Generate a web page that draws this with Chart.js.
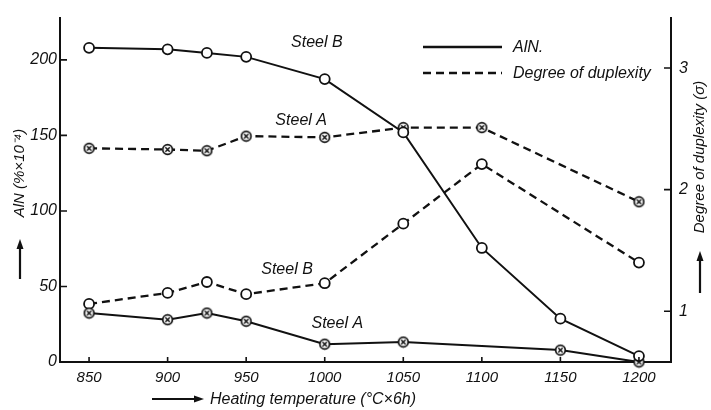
<!DOCTYPE html>
<html>
<head>
<meta charset="utf-8">
<script src="https://cdn.jsdelivr.net/npm/chart.js@4.4.1/dist/chart.umd.min.js"></script>
<style>
  html, body { margin: 0; padding: 0; background: #fff; }
  #wrap { width: 711px; height: 410px; position: relative; }
</style>
</head>
<body>
<div id="wrap"><canvas id="myChart"></canvas></div>
<script>
// values
const alnTempsB = [850, 900, 925, 950, 1000, 1050, 1100, 1150, 1200];
const alnSteelB = [208, 207, 204.6, 202, 187.3, 152, 75.5, 28.7, 3.9];
const alnTempsA = [850, 900, 925, 950, 1000, 1050, 1150, 1200];
const alnSteelA = [32.4, 28, 32.4, 27, 11.8, 13.2, 7.9, 0];
const dupTemps = [850, 900, 925, 950, 1000, 1050, 1100, 1200];
const dupSteelA = [2.34, 2.33, 2.32, 2.44, 2.43, 2.51, 2.51, 1.90];
const dupSteelB = [1.06, 1.15, 1.24, 1.14, 1.23, 1.72, 2.21, 1.40];
const xTicks = [850, 900, 950, 1000, 1050, 1100, 1150, 1200];
const alnTicks = [0, 50, 100, 150, 200];
const dupTicks = [1, 2, 3];

const ink = '#111';
const fam = "'Liberation Sans', Arial, sans-serif";

function pts(xs, ys) {
	return xs.map((x, i) => ({ x: x, y: ys[i] }));
}

// circle with a cross inside, for steel A
function crossedCircle() {
	const c = document.createElement('canvas');
	c.width = 13; c.height = 13;
	const g = c.getContext('2d');
	g.fillStyle = '#fff';
	g.strokeStyle = ink;
	g.lineWidth = 1.7;
	g.beginPath(); g.arc(6.5, 6.5, 4.8, 0, Math.PI * 2); g.fill(); g.stroke();
	g.lineWidth = 1.5;
	g.beginPath();
	g.moveTo(4.3, 4.3); g.lineTo(8.7, 8.7);
	g.moveTo(8.7, 4.3); g.lineTo(4.3, 8.7);
	g.stroke();
	return c;
}
const xo = crossedCircle();

function arrow(ctx, x1, y1, x2, y2) {
	const a = Math.atan2(y2 - y1, x2 - x1);
	ctx.lineWidth = 2.2;
	ctx.beginPath(); ctx.moveTo(x1, y1);
	ctx.lineTo(x2 - 6 * Math.cos(a), y2 - 6 * Math.sin(a)); ctx.stroke();
	ctx.beginPath();
	ctx.moveTo(x2, y2);
	ctx.lineTo(x2 - 10 * Math.cos(a) + 3.5 * Math.sin(a), y2 - 10 * Math.sin(a) - 3.5 * Math.cos(a));
	ctx.lineTo(x2 - 10 * Math.cos(a) - 3.5 * Math.sin(a), y2 - 10 * Math.sin(a) + 3.5 * Math.cos(a));
	ctx.closePath(); ctx.fill();
}

// labels on the curves (temperature, AlN units)
const notes = [
	{ t: 'Steel B', x: 995, y: 211.5 },
	{ t: 'Steel A', x: 985, y: 160 },
	{ t: 'Steel B', x: 976, y: 61.5 },
	{ t: 'Steel A', x: 1008, y: 25.5 }
];

const decor = {
	id: 'decor',
	afterDraw(chart) {
		const ctx = chart.ctx;
		const a = chart.chartArea;
		const sx = chart.scales.x, sy = chart.scales.y, sy2 = chart.scales.y2;
		ctx.save();
		ctx.strokeStyle = ink;
		ctx.fillStyle = ink;
		ctx.lineWidth = 1.6;
		// inward tick marks
		ctx.beginPath();
		xTicks.forEach(v => { const p = sx.getPixelForValue(v); ctx.moveTo(p, a.bottom); ctx.lineTo(p, a.bottom - 5); });
		alnTicks.forEach(v => { const p = sy.getPixelForValue(v); ctx.moveTo(a.left, p); ctx.lineTo(a.left + 7, p); });
		dupTicks.forEach(v => { const p = sy2.getPixelForValue(v); ctx.moveTo(a.right, p); ctx.lineTo(a.right - 7, p); });
		ctx.stroke();

		ctx.font = 'italic 16px ' + fam;
		ctx.textBaseline = 'middle';
		ctx.textAlign = 'center';
		notes.forEach(n => ctx.fillText(n.t, sx.getPixelForValue(n.x), sy.getPixelForValue(n.y)));

		// legend
		ctx.lineWidth = 2.4;
		ctx.beginPath(); ctx.moveTo(423, 47); ctx.lineTo(502, 47); ctx.stroke();
		ctx.setLineDash([8, 5]);
		ctx.beginPath(); ctx.moveTo(423, 73); ctx.lineTo(502, 73); ctx.stroke();
		ctx.setLineDash([]);
		ctx.textAlign = 'left';
		ctx.fillText('AlN.', 513, 48);
		ctx.fillText('Degree of duplexity', 513, 74);

		// x title
		ctx.font = 'italic 16px ' + fam;
		ctx.fillText('Heating temperature (°C×6h)', 210, 400);
		arrow(ctx, 152, 399, 204, 399);

		// left title
		ctx.save();
		ctx.translate(20, 173);
		ctx.rotate(-Math.PI / 2);
		ctx.textAlign = 'center';
		ctx.font = 'italic 15px ' + fam;
		ctx.fillText('AlN (%×10⁻⁴)', 0, 0);
		ctx.restore();
		arrow(ctx, 20, 279, 20, 239);

		// right title
		ctx.save();
		ctx.translate(700, 157);
		ctx.rotate(-Math.PI / 2);
		ctx.textAlign = 'center';
		ctx.font = 'italic 15px ' + fam;
		ctx.fillText('Degree of duplexity (σ)', 0, 0);
		ctx.restore();
		arrow(ctx, 700, 293, 700, 251);
		ctx.restore();
	}
};

const data = {
	datasets: [{
		label: 'Steel B AlN',
		data: pts(alnTempsB, alnSteelB),
		yAxisID: 'y',
		borderColor: ink,
		borderWidth: 2,
		pointStyle: 'circle',
		pointRadius: 5,
		pointBorderWidth: 1.8,
		pointBackgroundColor: '#fff',
		pointBorderColor: ink
	}, {
		label: 'Steel A AlN',
		data: pts(alnTempsA, alnSteelA),
		yAxisID: 'y',
		borderColor: ink,
		borderWidth: 2,
		pointStyle: xo,
		pointRadius: 5
	}, {
		label: 'Steel A duplexity',
		data: pts(dupTemps, dupSteelA),
		yAxisID: 'y2',
		borderColor: ink,
		borderWidth: 2.3,
		borderDash: [8, 5],
		pointStyle: xo,
		pointRadius: 5
	}, {
		label: 'Steel B duplexity',
		data: pts(dupTemps, dupSteelB),
		yAxisID: 'y2',
		borderColor: ink,
		borderWidth: 2.3,
		borderDash: [8, 5],
		pointStyle: 'circle',
		pointRadius: 5,
		pointBorderWidth: 1.8,
		pointBackgroundColor: '#fff',
		pointBorderColor: ink
	}]
};

const tickFont = { family: fam, style: 'italic', size: 16 };
const plain = v => String(v);

const config = {
	type: 'line',
	data: data,
	options: {
		responsive: true,
		maintainAspectRatio: false,
		animation: false,
		events: [],
		layout: { padding: { top: 13, left: 0, right: 0, bottom: 0 } },
		elements: { line: { tension: 0, fill: false } },
		datasets: { line: { clip: false } },
		plugins: { legend: { display: false }, tooltip: { enabled: false } },
		scales: {
			x: {
				type: 'linear',
				min: 831.5,
				max: 1220.4,
				grid: { display: false, drawTicks: false },
				border: { display: true, color: ink, width: 2 },
				ticks: { stepSize: 50, includeBounds: false, color: ink, padding: 7, callback: plain, font: { family: fam, style: 'italic', size: 15 } },
				afterFit: s => { s.height = 48; }
			},
			y: {
				position: 'left',
				min: 0,
				max: 228,
				grid: { display: false, drawTicks: false },
				border: { display: true, color: ink, width: 2 },
				ticks: { stepSize: 50, includeBounds: false, color: ink, padding: 3, callback: plain, font: tickFont },
				afterFit: s => { s.width = 60; }
			},
			y2: {
				position: 'right',
				min: 0.582,
				max: 3.415,
				grid: { display: false, drawTicks: false },
				border: { display: true, color: ink, width: 2 },
				ticks: { stepSize: 1, includeBounds: false, color: ink, padding: 8, callback: plain, font: tickFont },
				afterFit: s => { s.width = 40; }
			}
		}
	},
	plugins: [decor]
};

const myChart = new Chart(document.getElementById('myChart'), config);
</script>
</body>
</html>
